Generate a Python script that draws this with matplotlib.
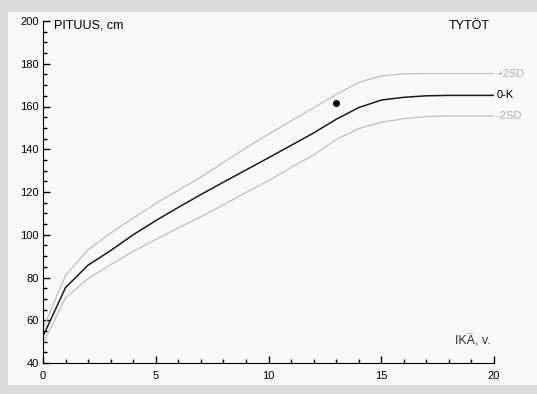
import matplotlib.pyplot as plt
from matplotlib.ticker import MultipleLocator

plt.rcParams['font.family'] = ['Liberation Sans', 'DejaVu Sans']

ages = list(range(0, 21))
mean = [52.5, 75.3, 85.8, 92.6, 100, 106.6, 112.8, 118.8, 124.6, 130.3, 136, 141.8,
        147.6, 154, 159.5, 163, 164.3, 165, 165.2, 165.2, 165.2]
plus2sd = [56, 81, 93, 100.8, 107.8, 114.6, 120.8, 127, 133.8, 140.6, 147, 153.3,
           159.4, 165.6, 171.3, 174.3, 175.3, 175.4, 175.4, 175.4, 175.4]
minus2sd = [49, 70.5, 79.5, 86, 92.2, 97.8, 103.2, 108.4, 114, 119.8, 125.3, 131.5,
            137.3, 144.6, 149.7, 152.6, 154.3, 155.3, 155.6, 155.6, 155.6]
point_age = [13.0]
point_height = [161.8]

fig = plt.figure(figsize=(5.37, 3.94), dpi=100, facecolor='#dcdcdc')

# light inner panel behind the chart
bg = fig.add_axes([8 / 537, 1 - 385 / 394, 529 / 537, 373 / 394], zorder=-1)
bg.set_facecolor('#f9f9f9')
bg.set_xticks([])
bg.set_yticks([])
for s in bg.spines.values():
    s.set_visible(False)

ax = fig.add_axes([43 / 537, 31 / 394, 451 / 537, 342 / 394])
ax.set_facecolor('none')

ax.plot(ages, plus2sd, color='#c4c4c4', lw=1)
ax.plot(ages, minus2sd, color='#c4c4c4', lw=1)
ax.plot(ages, mean, color='#1a1a1a', lw=1.1)
ax.plot(point_age, point_height, 'o', color='black', ms=4)

ax.set_xlim(0, 20)
ax.set_ylim(40, 200)
for s in ['top', 'right']:
    ax.spines[s].set_visible(False)
ax.xaxis.set_major_locator(MultipleLocator(5))
ax.xaxis.set_minor_locator(MultipleLocator(1))
ax.yaxis.set_major_locator(MultipleLocator(20))
ax.yaxis.set_minor_locator(MultipleLocator(5))
ax.tick_params(which='major', direction='in', length=5, width=1, labelsize=8, pad=3)
ax.tick_params(which='minor', direction='in', length=3, width=1)
ax.tick_params(axis='x', pad=6)

ax.text(0.5, 198, 'PITUUS, cm', fontsize=9, va='center', ha='left')
ax.text(19.8, 197.5, 'TYTÖT', fontsize=9, va='center', ha='right')
ax.text(19.85, 50.3, 'IKÄ, v.', fontsize=9, va='center', ha='right', color='#333333')

ax.text(20.1, plus2sd[-1], '+2SD', fontsize=8, va='center', ha='left', color='#b0b0b0', clip_on=False)
ax.text(20.1, mean[-1], '0-K', fontsize=8, va='center', ha='left', color='black', clip_on=False)
ax.text(20.1, minus2sd[-1], '-2SD', fontsize=8, va='center', ha='left', color='#b0b0b0', clip_on=False)

fig.savefig('out.png', dpi=100, facecolor=fig.get_facecolor())
